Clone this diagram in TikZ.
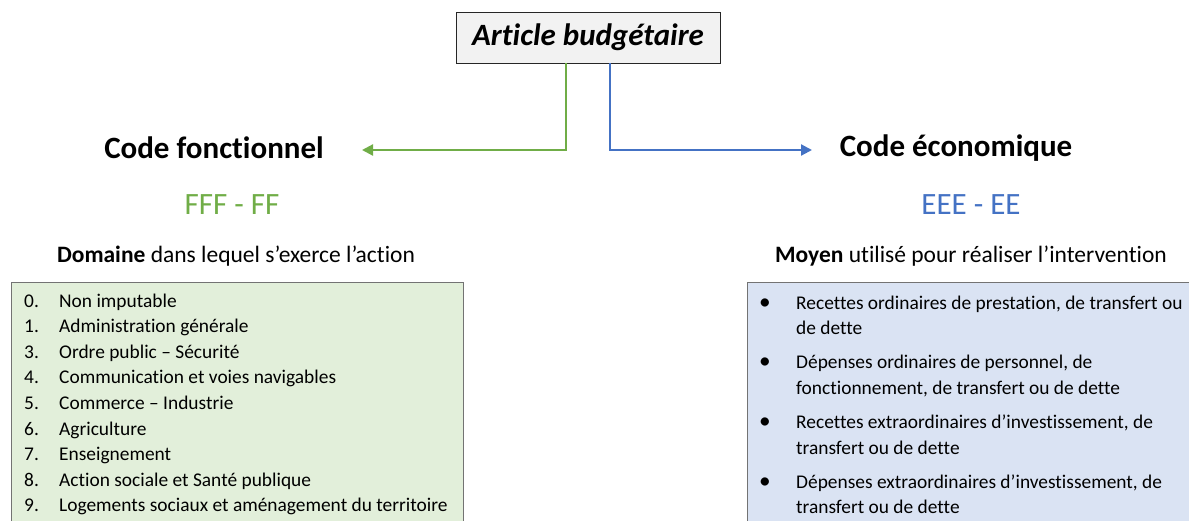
\documentclass[tikz,border=0pt]{standalone}
\usepackage{fontspec}
\setmainfont[Ligatures=NoCommon]{Carlito}
\usetikzlibrary{arrows.meta, positioning}
\definecolor{fgreen}{RGB}{112,173,71}
\definecolor{eblue}{RGB}{68,114,196}
\definecolor{greenfill}{RGB}{226,239,218}
\definecolor{bluefill}{RGB}{218,227,243}
\definecolor{titlefill}{RGB}{242,242,242}

\begin{document}
\begin{tikzpicture}[
  x=1pt, y=-1pt,
  titlebox/.style={draw=black!85, fill=titlefill, line width=0.8pt, minimum width=264pt, minimum height=51pt,
                   font=\fontsize{31}{36}\selectfont\bfseries\itshape},
  head/.style={font=\fontsize{31}{36}\selectfont\bfseries},
  code/.style={font=\fontsize{31}{36}\selectfont},
  sub/.style={font=\fontsize{23.5}{27}\selectfont},
  listbox/.style={draw=black!55, line width=0.8pt, anchor=north west, inner sep=0pt},
  item/.style={font=\fontsize{19.4}{25}\selectfont, anchor=base west, inner sep=0pt},
  arr/.style={-{Triangle[length=11pt,width=11pt]}, line width=2.2pt}
]
  \useasboundingbox (0,0) rectangle (1189,520);

  % top node and the two branches
  \node[titlebox] (title) at (588,37.5) {Article budgétaire};
  \node[head] (fcode) at (214,148) {Code fonctionnel};
  \node[head] (ecode) at (956,148) {Code économique};
  \node[code, text=fgreen] (fform) at (232,205) {FFF - FF};
  \node[code, text=eblue] (eform) at (971,205) {EEE - EE};
  \node[sub] (fsub) at (236,256) {\textbf{Domaine} dans lequel s’exerce l’action};
  \node[sub] (esub) at (971,256) {\textbf{Moyen} utilisé pour réaliser l’intervention};

  \coordinate (fend) at (362,150);
  \coordinate (eend) at (812,150);
  \draw[arr, fgreen] ([xshift=-22pt]title.south) |- (fend);
  \draw[arr, eblue] ([xshift=22pt]title.south) |- (eend);

  % list boxes
  \node[listbox, fill=greenfill, minimum width=452pt, minimum height=260pt] (dombox) at (11,282) {};
  \node[listbox, fill=bluefill, minimum width=460pt, minimum height=260pt] (moybox) at (747,282) {};

  \foreach \n/\t [count=\i from 0] in {0/Non imputable, 1/Administration générale,
      3/Ordre public – Sécurité, 4/Communication et voies navigables, 5/Commerce – Industrie,
      6/Agriculture, 7/Enseignement, 8/Action sociale et Santé publique,
      9/Logements sociaux et aménagement du territoire} {
    \node[item] (dnum\i) at (24,{307+\i*25.6}) {\n.};
    \node[item] (dtxt\i) at (59,{307+\i*25.6}) {\t};
  }

  \foreach \la/\lb [count=\i from 0] in {
      {Recettes ordinaires de prestation, de transfert ou}/{de dette},
      {Dépenses ordinaires de personnel, de}/{fonctionnement, de transfert ou de dette},
      {Recettes extraordinaires d’investissement, de}/{transfert ou de dette},
      {Dépenses extraordinaires d’investissement, de}/{transfert ou de dette}} {
    \node[item, scale=1.2] (mbul\i) at (759,{309+\i*59.7}) {•};
    \node[item] (mtxt\i) at (796,{309+\i*59.7}) {\la};
    \node[item] (mcont\i) at (796,{334.7+\i*59.7}) {\lb};
  }
\end{tikzpicture}
\end{document}
